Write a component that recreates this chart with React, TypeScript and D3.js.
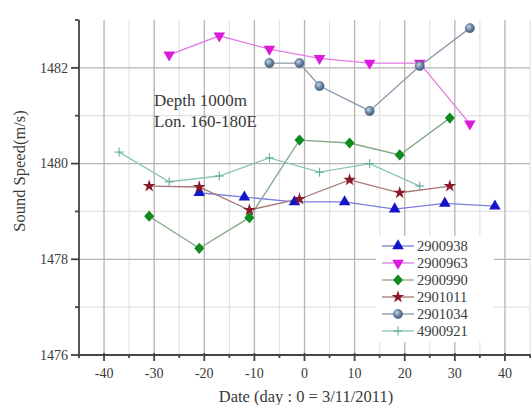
import React from "react";
import * as d3 from "d3";

const W = 531;
const H = 405;

// Day offsets and sound speeds (m/s) at 1000 m depth for each float
const x2900938 = [-21, -12, -2, 8, 18, 28, 38];
const y2900938 = [1479.39, 1479.3, 1479.2, 1479.2, 1479.05, 1479.17, 1479.11];

const x2900963 = [-27, -17, -7, 3, 13, 23, 33];
const y2900963 = [1482.27, 1482.67, 1482.39, 1482.2, 1482.1, 1482.1, 1480.83];

const x2900990 = [-31, -21, -11, -1, 9, 19, 29];
const y2900990 = [1478.9, 1478.23, 1478.87, 1480.49, 1480.43, 1480.18, 1480.95];

const x2901011 = [-31, -21, -11, -1, 9, 19, 29];
const y2901011 = [1479.53, 1479.51, 1479.03, 1479.26, 1479.66, 1479.39, 1479.53];

const x2901034 = [-7, -1, 3, 13, 23, 33];
const y2901034 = [1482.1, 1482.1, 1481.62, 1481.1, 1482.04, 1482.83];

const x4900921 = [-37, -27, -17, -7, 3, 13, 23];
const y4900921 = [1480.24, 1479.62, 1479.74, 1480.12, 1479.82, 1480.0, 1479.53];

const xTicks = [-40, -30, -20, -10, 0, 10, 20, 30, 40];
const yTicks = [1476, 1478, 1480, 1482];

type Marker = "up" | "down" | "diamond" | "star" | "circle" | "plus";

const series: {
  name: string;
  xs: number[];
  ys: number[];
  marker: Marker;
  fill: string;
  line: string;
}[] = [
  { name: "2900938", xs: x2900938, ys: y2900938, marker: "up", fill: "#1414c8", line: "#7c7ce0" },
  { name: "2900963", xs: x2900963, ys: y2900963, marker: "down", fill: "#dc1adc", line: "#e47ae4" },
  { name: "2900990", xs: x2900990, ys: y2900990, marker: "diamond", fill: "#0e8a1e", line: "#86a88a" },
  { name: "2901011", xs: x2901011, ys: y2901011, marker: "star", fill: "#8a1a2a", line: "#a87878" },
  { name: "2901034", xs: x2901034, ys: y2901034, marker: "circle", fill: "#5a7696", line: "#8a98a8" },
  { name: "4900921", xs: x4900921, ys: y4900921, marker: "plus", fill: "#5fae9e", line: "#8cc4b8" },
];

const x = d3.scaleLinear().domain([-45, 45]).range([79, 530]);
const y = d3.scaleLinear().domain([1476, 1483]).range([355, 20]);

const FONT = "'Liberation Serif', 'Times New Roman', serif";
const TEXT = "#3a3a3a";

function MarkerShape({ kind, cx, cy, fill }: { kind: Marker; cx: number; cy: number; fill: string }) {
  const t = `translate(${cx},${cy})`;
  switch (kind) {
    case "up":
      return <path transform={t} d={d3.symbol(d3.symbolTriangle, 58)()!} fill={fill} />;
    case "down":
      return <path transform={`${t} rotate(180)`} d={d3.symbol(d3.symbolTriangle, 58)()!} fill={fill} />;
    case "diamond":
      return <path transform={t} d="M0,-5.6L5,0L0,5.6L-5,0Z" fill={fill} />;
    case "star":
      return <path transform={t} d={d3.symbol(d3.symbolStar, 50)()!} fill={fill} />;
    case "circle":
      return <circle cx={cx} cy={cy} r={4.6} fill="url(#ballGrad)" stroke="#4a6482" strokeWidth={0.6} />;
    case "plus":
      return (
        <g transform={t} stroke={fill} strokeWidth={1.1}>
          <line x1={-4.5} x2={4.5} y1={0} y2={0} />
          <line x1={0} x2={0} y1={-4.5} y2={4.5} />
        </g>
      );
  }
}

export default function App() {
  const vMinor = d3.range(-40, 46, 5).filter((v) => v % 10 !== 0);
  const vMajor = xTicks;
  const hMinor = [1477, 1479, 1481];
  const hMajor = [1478, 1480, 1482];
  const xMinorTicks = d3.range(-45, 46, 5).filter((v) => v % 10 !== 0);
  const yMinorTicks = [1477, 1479, 1481, 1483];

  const line = d3
    .line<[number, number]>()
    .x((d) => x(d[0]))
    .y((d) => y(d[1]));

  const legendX = 376;
  const legendY = 236;
  const rowH = 17;

  return (
    <svg
      width={W}
      height={H}
      style={{ position: "absolute", left: 0, top: 0, background: "#fff" }}
      fontFamily={FONT}
    >
      <defs>
        <radialGradient id="ballGrad" cx="0.38" cy="0.35" r="0.7">
          <stop offset="0" stopColor="#c8d4e2" />
          <stop offset="0.5" stopColor="#6f8aa8" />
          <stop offset="1" stopColor="#3e5876" />
        </radialGradient>
      </defs>
      <rect width={W} height={H} fill="#fff" />

      {/* grid */}
      <g>
        {vMinor.map((v) => (
          <line key={"vm" + v} x1={x(v)} x2={x(v)} y1={y(1483)} y2={y(1476)} stroke="#e2e2e2" strokeWidth={1.2} />
        ))}
        {hMinor.map((v) => (
          <line key={"hm" + v} x1={x(-45)} x2={x(45)} y1={y(v)} y2={y(v)} stroke="#e2e2e2" strokeWidth={1.2} />
        ))}
        {vMajor.map((v) => (
          <line key={"vM" + v} x1={x(v)} x2={x(v)} y1={y(1483)} y2={y(1476)} stroke="#b4b4b4" strokeWidth={1.3} />
        ))}
        {hMajor.map((v) => (
          <line key={"hM" + v} x1={x(-45)} x2={x(45)} y1={y(v)} y2={y(v)} stroke="#b4b4b4" strokeWidth={1.3} />
        ))}
      </g>

      {/* legend background hides the grid behind it */}
      <rect x={legendX} y={legendY} width={118} height={106} fill="#fff" />

      {/* series lines */}
      {series.map((s) => (
        <path
          key={"l" + s.name}
          d={line(s.xs.map((v, i) => [v, s.ys[i]] as [number, number]))!}
          fill="none"
          stroke={s.line}
          strokeWidth={1.3}
        />
      ))}

      {/* series markers */}
      {series.map((s) => (
        <g key={"m" + s.name}>
          {s.xs.map((v, i) => (
            <MarkerShape key={i} kind={s.marker} cx={x(v)} cy={y(s.ys[i])} fill={s.fill} />
          ))}
        </g>
      ))}

      {/* axes */}
      <g stroke="#444" strokeWidth={1.8}>
        <line x1={x(-45)} x2={x(-45)} y1={y(1483)} y2={y(1476) + 1} />
        <line x1={x(-45)} x2={x(45)} y1={y(1476)} y2={y(1476)} />
        {yTicks.map((v) => (
          <line key={"yt" + v} x1={x(-45) - 8} x2={x(-45)} y1={y(v)} y2={y(v)} />
        ))}
        {yMinorTicks.map((v) => (
          <line key={"ymt" + v} x1={x(-45) - 4} x2={x(-45)} y1={y(v)} y2={y(v)} />
        ))}
        {xTicks.map((v) => (
          <line key={"xt" + v} x1={x(v)} x2={x(v)} y1={y(1476) - 2} y2={y(1476) + 6} />
        ))}
        {xMinorTicks.map((v) => (
          <line key={"xmt" + v} x1={x(v)} x2={x(v)} y1={y(1476) - 1} y2={y(1476) + 3} />
        ))}
      </g>

      {/* tick labels */}
      <g fill={TEXT} fontSize={14}>
        {yTicks.map((v) => (
          <text key={"yl" + v} x={x(-45) - 11} y={y(v)} dy="0.35em" textAnchor="end">
            {v}
          </text>
        ))}
        {xTicks.map((v) => (
          <text key={"xl" + v} x={x(v)} y={378} textAnchor="middle">
            {v}
          </text>
        ))}
      </g>

      {/* axis titles */}
      <text x={306} y={402} textAnchor="middle" fontSize={16.5} fill={TEXT}>
        Date (day : 0 = 3/11/2011)
      </text>
      <text
        transform={`translate(25,171) rotate(-90)`}
        textAnchor="middle"
        fontSize={16.5}
        fill={TEXT}
      >
        Sound Speed(m/s)
      </text>

      {/* annotation */}
      <g fill={TEXT} fontSize={17}>
        <text x={154} y={106}>Depth 1000m</text>
        <text x={154} y={127}>Lon. 160-180E</text>
      </g>

      {/* legend */}
      <g>
        {series.map((s, i) => {
          const cy = legendY + 10 + i * rowH;
          return (
            <g key={"lg" + s.name}>
              <line x1={legendX + 6} x2={legendX + 38} y1={cy} y2={cy} stroke={s.line} strokeWidth={1.3} />
              <MarkerShape kind={s.marker} cx={legendX + 22} cy={cy} fill={s.fill} />
              <text x={legendX + 41} y={cy} dy="0.35em" fontSize={14.5} fill={TEXT}>
                {s.name}
              </text>
            </g>
          );
        })}
      </g>
    </svg>
  );
}
